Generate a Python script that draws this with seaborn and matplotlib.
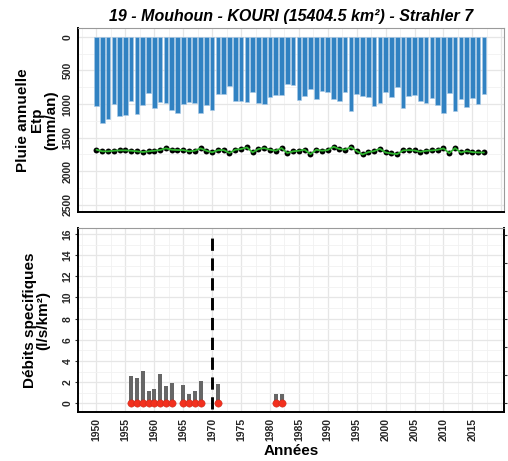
import numpy as np
import pandas as pd
import matplotlib
matplotlib.use("Agg")
import matplotlib.pyplot as plt
import seaborn as sns
from matplotlib.ticker import MultipleLocator

# %% données
annees = list(range(1950, 2018))
pluie = [1030, 1287, 1223, 1005, 1173, 1158, 955, 1153, 1020, 832,
         1059, 965, 980, 1094, 1133, 1000, 965, 980, 1133, 1015,
         1089, 849, 845, 735, 955, 955, 970, 827, 980, 995,
         900, 866, 861, 707, 718, 941, 882, 773, 932, 808,
         822, 932, 956, 818, 1105, 852, 877, 902, 1026, 991,
         827, 891, 752, 1059, 886, 871, 955, 980, 906, 1020,
         1134, 832, 1104, 921, 1045, 906, 1005, 851]
etp = [1679, 1703, 1703, 1694, 1689, 1689, 1694, 1703, 1713, 1703, 1694,
       1684, 1659, 1679, 1684, 1684, 1703, 1694, 1659, 1694, 1718, 1686,
       1684, 1728, 1679, 1669, 1645, 1718, 1669, 1655, 1679, 1694, 1655,
       1728, 1703, 1694, 1679, 1745, 1679, 1694, 1684, 1635, 1669, 1679,
       1640, 1700, 1750, 1715, 1700, 1665, 1720, 1735, 1745, 1690, 1685, 1690,
       1710, 1695, 1690, 1680, 1660, 1730, 1655, 1720, 1700, 1715, 1720, 1720]

annees_q = [1956, 1957, 1958, 1959, 1960, 1961, 1962, 1963, 1965, 1966, 1967, 1968, 1971, 1981, 1982]
debits = [2.58, 2.42, 3.05, 1.16, 1.32, 2.8, 1.67, 1.89, 1.76, 0.91, 1.16, 2.08, 1.82, 0.88, 0.88]
presence = [0.0 for _ in annees_q]

annee_rupture = 1970

df_pluie = pd.DataFrame({"annee": annees, "pluie": pluie, "etp": etp})
df_q = pd.DataFrame({"annee": annees_q, "debit": debits, "zero": presence})

# %% style
sns.set_style("white")
plt.rcParams["font.family"] = ["Liberation Sans", "DejaVu Sans"]
plt.rcParams["font.weight"] = "bold"
plt.rcParams["text.color"] = "black"
plt.rcParams["axes.labelcolor"] = "black"

TICK_FS = 7.5
LAB_FS = 11

fig = plt.figure(figsize=(5.08, 4.61), dpi=100)
ax_haut = fig.add_axes([0.1535, 0.5408, 0.8390, 0.3978])
ax_bas = fig.add_axes([0.1535, 0.1056, 0.8390, 0.3992])


def habillage(ax):
    ax.set_axisbelow(True)
    ax.grid(True, which="major", color="#e6e6e6", linewidth=0.9)
    ax.grid(True, which="minor", color="#f1f1f1", linewidth=0.6)
    ax.xaxis.set_major_locator(MultipleLocator(5))
    ax.xaxis.set_minor_locator(MultipleLocator(2.5))
    ax.set_xlim(1946.8, 2020.5)
    ax.tick_params(axis="both", which="minor", length=0)
    ax.tick_params(axis="both", which="major", length=2.5, width=0.8, color="#333333",
                   labelsize=TICK_FS, labelcolor="#262626", pad=1.5)
    ax.spines["left"].set_color("black")
    ax.spines["left"].set_linewidth(1.4)
    ax.spines["bottom"].set_color("black")
    ax.spines["bottom"].set_linewidth(1.4)
    ax.spines["top"].set_color("#9a9a9a")
    ax.spines["top"].set_linewidth(0.8)
    ax.spines["right"].set_color("#9a9a9a")
    ax.spines["right"].set_linewidth(0.8)


# %% pluie et Etp
sns.barplot(data=df_pluie, x="annee", y="pluie", native_scale=True, width=0.8,
            color="#3182c2", saturation=1, edgecolor="#a9c9e6", linewidth=0.4, ax=ax_haut)
sns.lineplot(data=df_pluie, x="annee", y="etp", color="#2fb52f", linewidth=1.3, ax=ax_haut)
sns.scatterplot(data=df_pluie, x="annee", y="etp", color="black", s=18, linewidth=0, ax=ax_haut)
habillage(ax_haut)
ax_haut.yaxis.set_minor_locator(MultipleLocator(250))
ax_haut.set_yticks(list(range(0, 2501, 500)))
ax_haut.set_yticklabels([str(v) for v in range(0, 2501, 500)], rotation=90, va="center",
                        fontsize=TICK_FS, fontweight="bold", color="#262626")
ax_haut.set_ylim(2600, -125)
ax_haut.tick_params(axis="x", which="major", length=0, labelbottom=False)
ax_haut.set_xlabel("")
ax_haut.set_ylabel("Pluie annuelle\nEtp\n(mm/an)", fontsize=LAB_FS, fontweight="bold",
                   linespacing=1.0, color="black")
ax_haut.yaxis.set_label_coords(-0.046, 0.5)
ax_haut.set_title("19 - Mouhoun - KOURI (15404.5 km²) - Strahler 7", fontsize=11.5,
                  fontweight="bold", fontstyle="italic", pad=5, color="black")

# %% débits spécifiques
sns.barplot(data=df_q, x="annee", y="debit", native_scale=True, width=0.7,
            color="#666666", saturation=1, linewidth=0, ax=ax_bas)
sns.scatterplot(data=df_q, x="annee", y="zero", color="#f2301e", s=28, edgecolor="#c0281a",
                linewidth=0.3, zorder=4, ax=ax_bas)
ax_bas.axvline(annee_rupture, ymin=0.02, ymax=0.965, color="black", linewidth=2.1,
               linestyle=(0, (4.2, 2.6)), zorder=3)
habillage(ax_bas)
ax_bas.yaxis.set_minor_locator(MultipleLocator(1))
ax_bas.set_yticks(list(range(0, 17, 2)))
ax_bas.set_yticklabels([str(v) for v in range(0, 17, 2)], rotation=90, va="center",
                       fontsize=TICK_FS, fontweight="bold", color="#262626")
ax_bas.set_ylim(-0.85, 16.54)
ax_bas.set_xticks(list(range(1950, 2016, 5)))
ax_bas.set_xticklabels([str(v) for v in range(1950, 2016, 5)], rotation=90,
                       fontsize=TICK_FS, fontweight="bold", color="#262626")
ax_bas.set_xlim(1946.8, 2020.5)
ax_bas.spines["right"].set_color("black")
ax_bas.spines["right"].set_linewidth(1.4)
ax_bas.set_xlabel("Années", fontsize=LAB_FS, fontweight="bold", labelpad=2, color="black")
ax_bas.set_ylabel("Débits specifiques\n(l/s/km²)", fontsize=LAB_FS, fontweight="bold",
                  linespacing=1.0, color="black")
ax_bas.yaxis.set_label_coords(-0.064, 0.5)

# axe secondaire (ticks seuls)
ax_sec = ax_bas.twinx()
ax_sec.set_ylim(-0.85, 16.54)
ax_sec.set_yticks(list(np.arange(0, 16, 2.65)))
ax_sec.tick_params(axis="y", length=2, width=0.8, labelright=False, color="#333333")
for s in ax_sec.spines.values():
    s.set_visible(False)

fig.savefig("out.png", dpi=100)
